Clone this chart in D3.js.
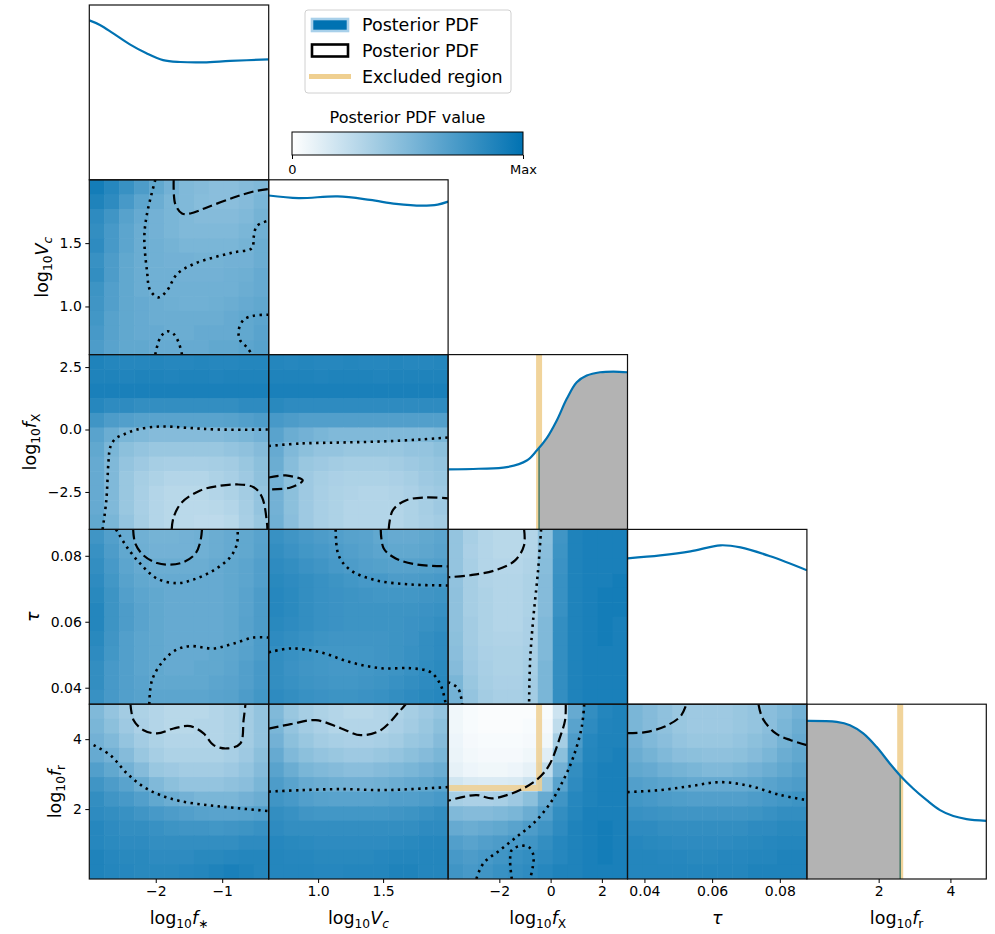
<!DOCTYPE html>
<html lang="en">
<head>
<meta charset="UTF-8">
<title>Corner plot</title>
<script src="https://d3js.org/d3.v7.min.js"></script>
<style>
  body { margin: 0; background: #fff; }
  svg text { font-family: "DejaVu Sans", sans-serif; fill: #000; }
</style>
</head>
<body>
<div id="chart"></div>
<script>
// ---- parameters / axes ----
var paramDomains = [[-3, -0.3], [0.62, 2.0], [-4, 3], [0.035, 0.088], [0, 5]];
var xTickVals = [[-2, -1], [1.0, 1.5], [-2, 0, 2], [0.04, 0.06, 0.08], [2, 4]];
var xTickText = [["−2", "−1"], ["1.0", "1.5"], ["−2", "0", "2"], ["0.04", "0.06", "0.08"], ["2", "4"]];
var yTickVals = [[], [1.0, 1.5], [-2.5, 0, 2.5], [0.04, 0.06, 0.08], [2, 4]];
var yTickText = [[], ["1.0", "1.5"], ["−2.5", "0.0", "2.5"], ["0.04", "0.06", "0.08"], ["2", "4"]];
var axisLabels = [
  [{t: "log"}, {t: "10", sub: 1}, {t: "f", it: 1}, {t: "∗", sub: 1}],
  [{t: "log"}, {t: "10", sub: 1}, {t: "V", it: 1}, {t: "c", sub: 1, it: 1}],
  [{t: "log"}, {t: "10", sub: 1}, {t: "f", it: 1}, {t: "X", sub: 1}],
  [{t: "τ", it: 1}],
  [{t: "log"}, {t: "10", sub: 1}, {t: "f", it: 1}, {t: "r", sub: 1}]
];

// excluded values
var excl_fX = -0.45;
var excl_fr = 2.6;

// ---- 1D marginals (x, relative density) ----
var marg_fstar = [[-3, 0.912], [-2.84, 0.886], [-2.64, 0.838], [-2.39, 0.775], [-2.14, 0.724], [-1.89, 0.685], [-1.63, 0.674], [-1.28, 0.672], [-0.88, 0.68], [-0.3, 0.689]];
var marg_Vc = [[0.62, 0.91], [0.85, 0.895], [1.15, 0.905], [1.4, 0.885], [1.6, 0.862], [1.8, 0.852], [1.92, 0.858], [2.0, 0.875]];
var marg_fX = [[-4, 0.343], [-2.8, 0.347], [-1.71, 0.356], [-0.93, 0.394], [-0.54, 0.451], [-0.15, 0.522], [0.24, 0.623], [0.63, 0.747], [1.02, 0.842], [1.41, 0.88], [1.93, 0.899], [2.45, 0.903], [3.0, 0.899]];
var marg_tau = [[0.035, 0.834], [0.0447, 0.851], [0.0536, 0.874], [0.0625, 0.909], [0.0684, 0.897], [0.0772, 0.846], [0.088, 0.766]];
var marg_fr = [[0, 0.905], [0.83, 0.899], [1.2, 0.88], [1.57, 0.833], [1.94, 0.756], [2.31, 0.661], [2.59, 0.594], [2.96, 0.518], [3.34, 0.451], [3.71, 0.394], [4.08, 0.36], [4.45, 0.343], [5.0, 0.333]];

// ---- 2D posterior grids (rows top->bottom, cols left->right), 0..1 ----
var heat_Vc_fstar = [
  [0.92, 0.85, 0.78, 0.70, 0.62, 0.55, 0.50, 0.48, 0.46, 0.46, 0.48, 0.50],
  [0.88, 0.82, 0.72, 0.64, 0.58, 0.52, 0.50, 0.47, 0.46, 0.46, 0.48, 0.52],
  [0.82, 0.75, 0.66, 0.60, 0.55, 0.52, 0.50, 0.48, 0.48, 0.48, 0.50, 0.54],
  [0.80, 0.72, 0.64, 0.58, 0.55, 0.52, 0.50, 0.50, 0.50, 0.50, 0.52, 0.56],
  [0.82, 0.72, 0.64, 0.58, 0.56, 0.54, 0.52, 0.52, 0.52, 0.52, 0.54, 0.58],
  [0.78, 0.70, 0.62, 0.58, 0.56, 0.55, 0.55, 0.54, 0.54, 0.55, 0.55, 0.58],
  [0.80, 0.70, 0.62, 0.58, 0.56, 0.56, 0.55, 0.55, 0.55, 0.56, 0.57, 0.60],
  [0.76, 0.68, 0.62, 0.58, 0.56, 0.56, 0.56, 0.56, 0.56, 0.56, 0.58, 0.60],
  [0.75, 0.68, 0.62, 0.60, 0.58, 0.57, 0.56, 0.56, 0.57, 0.58, 0.60, 0.62],
  [0.74, 0.66, 0.62, 0.60, 0.58, 0.58, 0.58, 0.58, 0.58, 0.60, 0.62, 0.64],
  [0.72, 0.66, 0.62, 0.60, 0.60, 0.58, 0.58, 0.60, 0.60, 0.60, 0.62, 0.65],
  [0.70, 0.65, 0.62, 0.62, 0.60, 0.60, 0.60, 0.60, 0.62, 0.62, 0.64, 0.66]
];
var heat_fX_fstar = [
  [0.88, 0.86, 0.85, 0.85, 0.86, 0.85, 0.85, 0.86, 0.85, 0.85, 0.86, 0.86],
  [0.88, 0.88, 0.87, 0.88, 0.88, 0.87, 0.88, 0.88, 0.87, 0.88, 0.88, 0.88],
  [0.90, 0.90, 0.90, 0.90, 0.90, 0.90, 0.90, 0.90, 0.90, 0.90, 0.90, 0.90],
  [0.85, 0.82, 0.82, 0.80, 0.80, 0.80, 0.80, 0.80, 0.80, 0.80, 0.82, 0.82],
  [0.75, 0.70, 0.68, 0.66, 0.65, 0.65, 0.65, 0.65, 0.65, 0.66, 0.68, 0.70],
  [0.65, 0.58, 0.52, 0.50, 0.48, 0.48, 0.48, 0.48, 0.48, 0.50, 0.52, 0.55],
  [0.62, 0.52, 0.45, 0.42, 0.40, 0.40, 0.40, 0.40, 0.40, 0.42, 0.44, 0.48],
  [0.60, 0.50, 0.42, 0.38, 0.35, 0.34, 0.34, 0.34, 0.35, 0.36, 0.40, 0.45],
  [0.60, 0.50, 0.40, 0.35, 0.32, 0.30, 0.30, 0.30, 0.32, 0.34, 0.38, 0.44],
  [0.60, 0.50, 0.40, 0.34, 0.30, 0.28, 0.28, 0.28, 0.30, 0.32, 0.36, 0.42],
  [0.60, 0.50, 0.40, 0.34, 0.30, 0.28, 0.27, 0.27, 0.28, 0.30, 0.35, 0.42],
  [0.62, 0.52, 0.42, 0.35, 0.30, 0.28, 0.27, 0.26, 0.26, 0.28, 0.34, 0.40]
];
var heat_tau_fstar = [
  [0.75, 0.68, 0.60, 0.56, 0.54, 0.54, 0.55, 0.56, 0.58, 0.60, 0.62, 0.65],
  [0.78, 0.70, 0.62, 0.57, 0.55, 0.55, 0.55, 0.56, 0.58, 0.60, 0.62, 0.66],
  [0.80, 0.72, 0.64, 0.60, 0.58, 0.58, 0.58, 0.58, 0.60, 0.62, 0.64, 0.68],
  [0.82, 0.74, 0.66, 0.62, 0.60, 0.60, 0.60, 0.60, 0.60, 0.62, 0.64, 0.68],
  [0.84, 0.76, 0.68, 0.64, 0.62, 0.60, 0.60, 0.60, 0.60, 0.62, 0.65, 0.70],
  [0.86, 0.76, 0.70, 0.65, 0.62, 0.60, 0.60, 0.60, 0.60, 0.62, 0.65, 0.70],
  [0.86, 0.76, 0.70, 0.65, 0.62, 0.60, 0.60, 0.60, 0.60, 0.62, 0.66, 0.70],
  [0.84, 0.75, 0.68, 0.64, 0.62, 0.60, 0.60, 0.60, 0.60, 0.62, 0.65, 0.70],
  [0.82, 0.74, 0.68, 0.64, 0.62, 0.60, 0.60, 0.60, 0.62, 0.63, 0.66, 0.70],
  [0.80, 0.72, 0.68, 0.64, 0.62, 0.60, 0.60, 0.62, 0.62, 0.64, 0.68, 0.72],
  [0.80, 0.72, 0.68, 0.65, 0.62, 0.62, 0.62, 0.62, 0.64, 0.65, 0.68, 0.72],
  [0.78, 0.72, 0.68, 0.66, 0.64, 0.64, 0.64, 0.64, 0.65, 0.66, 0.70, 0.74]
];
var heat_fr_fstar = [
  [0.50, 0.42, 0.36, 0.32, 0.30, 0.28, 0.28, 0.28, 0.30, 0.32, 0.36, 0.42],
  [0.52, 0.45, 0.38, 0.33, 0.30, 0.28, 0.28, 0.30, 0.30, 0.32, 0.36, 0.42],
  [0.55, 0.50, 0.42, 0.36, 0.32, 0.30, 0.30, 0.30, 0.30, 0.32, 0.36, 0.42],
  [0.60, 0.55, 0.48, 0.40, 0.35, 0.32, 0.32, 0.32, 0.32, 0.34, 0.38, 0.45],
  [0.68, 0.62, 0.55, 0.48, 0.40, 0.38, 0.36, 0.36, 0.36, 0.38, 0.42, 0.48],
  [0.75, 0.70, 0.65, 0.58, 0.50, 0.45, 0.42, 0.42, 0.42, 0.44, 0.46, 0.52],
  [0.80, 0.75, 0.72, 0.68, 0.62, 0.58, 0.55, 0.52, 0.52, 0.52, 0.55, 0.58],
  [0.82, 0.80, 0.78, 0.75, 0.72, 0.70, 0.68, 0.66, 0.65, 0.65, 0.66, 0.68],
  [0.85, 0.82, 0.80, 0.80, 0.78, 0.76, 0.75, 0.75, 0.74, 0.75, 0.76, 0.78],
  [0.85, 0.83, 0.82, 0.82, 0.80, 0.80, 0.80, 0.80, 0.80, 0.80, 0.82, 0.82],
  [0.88, 0.85, 0.84, 0.84, 0.82, 0.82, 0.82, 0.84, 0.84, 0.85, 0.86, 0.86],
  [0.88, 0.86, 0.85, 0.84, 0.84, 0.84, 0.85, 0.86, 0.88, 0.90, 0.88, 0.86]
];
var heat_fX_Vc = [
  [0.86, 0.85, 0.86, 0.85, 0.85, 0.86, 0.85, 0.85, 0.86, 0.85, 0.85, 0.86],
  [0.88, 0.88, 0.88, 0.87, 0.88, 0.88, 0.88, 0.87, 0.88, 0.88, 0.88, 0.88],
  [0.90, 0.90, 0.90, 0.90, 0.90, 0.90, 0.90, 0.90, 0.90, 0.90, 0.90, 0.90],
  [0.84, 0.82, 0.82, 0.82, 0.82, 0.82, 0.82, 0.82, 0.82, 0.82, 0.82, 0.82],
  [0.72, 0.70, 0.68, 0.68, 0.68, 0.68, 0.68, 0.68, 0.68, 0.68, 0.68, 0.68],
  [0.65, 0.58, 0.55, 0.52, 0.50, 0.50, 0.50, 0.50, 0.50, 0.50, 0.50, 0.52],
  [0.60, 0.50, 0.45, 0.42, 0.42, 0.40, 0.40, 0.40, 0.40, 0.42, 0.42, 0.45],
  [0.58, 0.47, 0.40, 0.38, 0.36, 0.35, 0.35, 0.35, 0.36, 0.38, 0.40, 0.42],
  [0.55, 0.45, 0.38, 0.35, 0.33, 0.32, 0.32, 0.32, 0.33, 0.35, 0.38, 0.40],
  [0.55, 0.45, 0.38, 0.34, 0.32, 0.31, 0.30, 0.30, 0.31, 0.33, 0.36, 0.38],
  [0.55, 0.45, 0.38, 0.34, 0.32, 0.30, 0.30, 0.30, 0.30, 0.32, 0.35, 0.38],
  [0.56, 0.46, 0.38, 0.34, 0.32, 0.30, 0.30, 0.30, 0.30, 0.32, 0.34, 0.36]
];
var heat_tau_Vc = [
  [0.78, 0.75, 0.72, 0.70, 0.68, 0.66, 0.65, 0.62, 0.60, 0.60, 0.62, 0.64],
  [0.80, 0.77, 0.74, 0.72, 0.70, 0.68, 0.66, 0.64, 0.62, 0.62, 0.63, 0.65],
  [0.82, 0.80, 0.77, 0.75, 0.72, 0.70, 0.68, 0.67, 0.66, 0.66, 0.67, 0.68],
  [0.84, 0.82, 0.80, 0.78, 0.76, 0.74, 0.72, 0.72, 0.70, 0.70, 0.71, 0.72],
  [0.85, 0.83, 0.80, 0.78, 0.77, 0.76, 0.75, 0.74, 0.74, 0.74, 0.75, 0.76],
  [0.85, 0.83, 0.80, 0.78, 0.77, 0.76, 0.76, 0.76, 0.76, 0.76, 0.77, 0.78],
  [0.84, 0.82, 0.80, 0.78, 0.77, 0.76, 0.76, 0.76, 0.76, 0.77, 0.78, 0.80],
  [0.82, 0.80, 0.78, 0.76, 0.75, 0.75, 0.75, 0.75, 0.76, 0.77, 0.80, 0.82],
  [0.80, 0.78, 0.76, 0.74, 0.74, 0.74, 0.74, 0.75, 0.76, 0.78, 0.80, 0.82],
  [0.80, 0.77, 0.75, 0.74, 0.73, 0.73, 0.74, 0.75, 0.76, 0.78, 0.81, 0.83],
  [0.80, 0.78, 0.76, 0.75, 0.74, 0.74, 0.75, 0.76, 0.78, 0.80, 0.82, 0.84],
  [0.82, 0.80, 0.78, 0.77, 0.76, 0.76, 0.77, 0.78, 0.80, 0.82, 0.84, 0.85]
];
var heat_fr_Vc = [
  [0.50, 0.40, 0.35, 0.32, 0.30, 0.28, 0.28, 0.30, 0.32, 0.35, 0.38, 0.42],
  [0.52, 0.42, 0.36, 0.33, 0.30, 0.30, 0.30, 0.30, 0.33, 0.36, 0.40, 0.45],
  [0.55, 0.45, 0.40, 0.36, 0.34, 0.33, 0.33, 0.34, 0.36, 0.40, 0.42, 0.48],
  [0.60, 0.50, 0.45, 0.42, 0.40, 0.38, 0.38, 0.40, 0.42, 0.45, 0.48, 0.52],
  [0.65, 0.58, 0.52, 0.50, 0.48, 0.46, 0.46, 0.48, 0.50, 0.52, 0.55, 0.58],
  [0.70, 0.65, 0.60, 0.58, 0.56, 0.55, 0.55, 0.56, 0.58, 0.60, 0.62, 0.65],
  [0.75, 0.72, 0.68, 0.66, 0.65, 0.65, 0.65, 0.66, 0.68, 0.68, 0.70, 0.72],
  [0.80, 0.78, 0.75, 0.74, 0.74, 0.74, 0.74, 0.74, 0.75, 0.76, 0.78, 0.80],
  [0.82, 0.80, 0.80, 0.80, 0.80, 0.80, 0.80, 0.80, 0.80, 0.80, 0.82, 0.82],
  [0.85, 0.84, 0.83, 0.82, 0.82, 0.82, 0.82, 0.82, 0.83, 0.84, 0.85, 0.85],
  [0.86, 0.85, 0.85, 0.84, 0.84, 0.84, 0.84, 0.85, 0.86, 0.86, 0.86, 0.86],
  [0.86, 0.86, 0.86, 0.85, 0.85, 0.86, 0.86, 0.86, 0.88, 0.88, 0.86, 0.86]
];
var heat_tau_fX = [
  [0.42, 0.34, 0.30, 0.28, 0.28, 0.30, 0.45, 0.75, 0.88, 0.90, 0.90, 0.90],
  [0.42, 0.33, 0.30, 0.28, 0.28, 0.30, 0.46, 0.76, 0.88, 0.90, 0.90, 0.90],
  [0.42, 0.34, 0.30, 0.29, 0.29, 0.31, 0.47, 0.77, 0.88, 0.90, 0.90, 0.90],
  [0.43, 0.35, 0.31, 0.30, 0.30, 0.32, 0.48, 0.78, 0.88, 0.90, 0.90, 0.92],
  [0.44, 0.35, 0.32, 0.30, 0.30, 0.32, 0.48, 0.78, 0.88, 0.90, 0.92, 0.92],
  [0.44, 0.35, 0.32, 0.30, 0.30, 0.32, 0.48, 0.78, 0.88, 0.90, 0.92, 0.92],
  [0.44, 0.36, 0.32, 0.30, 0.30, 0.33, 0.50, 0.80, 0.88, 0.90, 0.92, 0.90],
  [0.45, 0.36, 0.32, 0.31, 0.31, 0.33, 0.50, 0.80, 0.88, 0.90, 0.92, 0.90],
  [0.46, 0.37, 0.33, 0.32, 0.32, 0.34, 0.50, 0.80, 0.88, 0.90, 0.90, 0.90],
  [0.48, 0.38, 0.34, 0.32, 0.32, 0.35, 0.52, 0.80, 0.88, 0.90, 0.90, 0.90],
  [0.52, 0.40, 0.35, 0.33, 0.33, 0.36, 0.52, 0.80, 0.88, 0.90, 0.90, 0.90],
  [0.55, 0.42, 0.36, 0.34, 0.34, 0.36, 0.52, 0.80, 0.88, 0.90, 0.90, 0.90]
];
var heat_fr_fX = [
  [0.06, 0.03, 0.02, 0.02, 0.02, 0.02, 0.03, 0.20, 0.60, 0.80, 0.86, 0.88],
  [0.06, 0.03, 0.02, 0.02, 0.02, 0.03, 0.04, 0.25, 0.65, 0.82, 0.87, 0.88],
  [0.07, 0.04, 0.03, 0.03, 0.03, 0.04, 0.06, 0.35, 0.70, 0.85, 0.88, 0.88],
  [0.08, 0.05, 0.04, 0.04, 0.04, 0.06, 0.12, 0.45, 0.75, 0.86, 0.88, 0.90],
  [0.10, 0.07, 0.06, 0.06, 0.07, 0.10, 0.25, 0.55, 0.80, 0.87, 0.90, 0.90],
  [0.18, 0.15, 0.14, 0.14, 0.15, 0.20, 0.40, 0.65, 0.82, 0.88, 0.90, 0.90],
  [0.35, 0.33, 0.33, 0.34, 0.38, 0.45, 0.60, 0.75, 0.85, 0.88, 0.90, 0.90],
  [0.50, 0.48, 0.48, 0.50, 0.52, 0.58, 0.68, 0.80, 0.86, 0.90, 0.90, 0.90],
  [0.60, 0.58, 0.60, 0.62, 0.65, 0.70, 0.75, 0.82, 0.88, 0.90, 0.92, 0.90],
  [0.68, 0.65, 0.68, 0.70, 0.72, 0.75, 0.80, 0.85, 0.88, 0.90, 0.92, 0.90],
  [0.72, 0.70, 0.72, 0.75, 0.78, 0.80, 0.82, 0.85, 0.88, 0.90, 0.92, 0.90],
  [0.75, 0.72, 0.75, 0.78, 0.80, 0.82, 0.85, 0.88, 0.88, 0.90, 0.90, 0.90]
];
var heat_fr_tau = [
  [0.52, 0.48, 0.44, 0.40, 0.38, 0.38, 0.38, 0.40, 0.42, 0.46, 0.50, 0.55],
  [0.52, 0.48, 0.44, 0.40, 0.38, 0.38, 0.38, 0.40, 0.42, 0.46, 0.52, 0.58],
  [0.55, 0.50, 0.46, 0.42, 0.40, 0.40, 0.40, 0.42, 0.45, 0.48, 0.54, 0.60],
  [0.58, 0.54, 0.50, 0.46, 0.45, 0.44, 0.44, 0.45, 0.48, 0.52, 0.58, 0.62],
  [0.62, 0.60, 0.56, 0.54, 0.52, 0.50, 0.50, 0.52, 0.55, 0.58, 0.62, 0.66],
  [0.68, 0.66, 0.64, 0.62, 0.60, 0.60, 0.60, 0.60, 0.62, 0.65, 0.68, 0.70],
  [0.74, 0.72, 0.70, 0.69, 0.68, 0.68, 0.68, 0.68, 0.70, 0.72, 0.74, 0.76],
  [0.78, 0.77, 0.76, 0.75, 0.75, 0.75, 0.75, 0.75, 0.76, 0.78, 0.80, 0.80],
  [0.82, 0.82, 0.80, 0.80, 0.80, 0.80, 0.80, 0.80, 0.82, 0.82, 0.84, 0.84],
  [0.85, 0.84, 0.83, 0.82, 0.82, 0.82, 0.82, 0.83, 0.84, 0.85, 0.86, 0.86],
  [0.86, 0.86, 0.85, 0.85, 0.84, 0.84, 0.85, 0.85, 0.86, 0.86, 0.88, 0.88],
  [0.86, 0.86, 0.86, 0.86, 0.86, 0.86, 0.86, 0.86, 0.88, 0.88, 0.88, 0.88]
];

// ---- credible-region contours (x, y in data units) ----
var cont_Vc_fstar_dash = [[-1.73, 2.0], [-1.706, 1.808], [-1.605, 1.734], [-1.48, 1.734], [-1.23, 1.782], [-0.828, 1.86], [-0.527, 1.908], [-0.3, 1.927]];
var cont_Vc_fstar_dot1 = [[-2.007, 2.0], [-2.132, 1.73], [-2.172, 1.545], [-2.132, 1.282], [-2.082, 1.125], [-1.957, 1.072], [-1.831, 1.125], [-1.68, 1.256], [-1.43, 1.335], [-1.129, 1.387], [-0.828, 1.427], [-0.551, 1.461], [-0.527, 1.545], [-0.476, 1.637], [-0.3, 1.677]];
var cont_Vc_fstar_dot2 = [[-2.007, 0.62], [-1.931, 0.756], [-1.83, 0.804], [-1.731, 0.783], [-1.656, 0.717], [-1.605, 0.62]];
var cont_Vc_fstar_dot3 = [[-0.3, 0.935], [-0.527, 0.927], [-0.678, 0.894], [-0.753, 0.809], [-0.727, 0.73], [-0.627, 0.677], [-0.551, 0.62]];

var cont_fX_fstar_dot = [[-2.8, -4.0], [-2.744, -2.84], [-2.71, -1.24], [-2.684, -0.708], [-2.609, -0.372], [-2.484, -0.2], [-2.282, 0.0], [-1.931, 0.12], [-1.53, 0.068], [-1.078, 0.0], [-0.3, 0.0]];
var cont_fX_fstar_dash = [[-1.76, -4.0], [-1.731, -3.51], [-1.605, -2.91], [-1.33, -2.44], [-1.078, -2.27], [-0.777, -2.2], [-0.527, -2.31], [-0.4, -2.71], [-0.325, -3.77], [-0.32, -4.0]];

var cont_tau_fstar_dash = [[-2.34, 0.088], [-2.308, 0.0837], [-2.183, 0.0801], [-1.981, 0.0778], [-1.781, 0.0773], [-1.581, 0.0781], [-1.405, 0.0806], [-1.33, 0.0842], [-1.304, 0.088]];
var cont_tau_fstar_dot1 = [[-2.6, 0.088], [-2.559, 0.0867], [-2.433, 0.0826], [-2.232, 0.0776], [-1.981, 0.0731], [-1.68, 0.0717], [-1.43, 0.0728], [-1.129, 0.0756], [-0.878, 0.0796], [-0.777, 0.0837], [-0.768, 0.088]];
var cont_tau_fstar_dot2 = [[-2.097, 0.035], [-2.056, 0.0423], [-1.881, 0.0483], [-1.68, 0.0516], [-1.48, 0.0526], [-1.129, 0.0519], [-0.828, 0.0534], [-0.527, 0.0552], [-0.3, 0.0552]];

var cont_fr_fstar_dash = [[-2.38, 5.0], [-2.333, 4.543], [-2.183, 4.257], [-1.981, 4.163], [-1.731, 4.306], [-1.48, 4.371], [-1.28, 4.163], [-1.129, 3.829], [-0.928, 3.734], [-0.727, 3.877], [-0.678, 4.543], [-0.65, 5.0]];
var cont_fr_fstar_dot = [[-2.935, 3.829], [-2.684, 3.543], [-2.433, 3.02], [-2.183, 2.637], [-1.931, 2.4], [-1.63, 2.229], [-1.229, 2.114], [-0.828, 2.037], [-0.3, 1.943]];

var cont_fX_Vc_dot = [[0.62, -0.66], [0.866, -0.56], [1.174, -0.52], [1.482, -0.48], [1.789, -0.4], [2.0, -0.32]];
var cont_fX_Vc_dash1 = [[0.62, -1.92], [0.751, -1.84], [0.882, -2.04], [0.789, -2.32], [0.62, -2.4]];
var cont_fX_Vc_dash2 = [[1.543, -4.0], [1.574, -3.24], [1.674, -2.84], [1.828, -2.72], [2.0, -2.76]];

var cont_tau_Vc_dash = [[1.482, 0.088], [1.505, 0.0822], [1.597, 0.0792], [1.751, 0.0774], [2.0, 0.0768]];
var cont_tau_Vc_dot1 = [[1.135, 0.088], [1.158, 0.0801], [1.251, 0.0756], [1.443, 0.0726], [1.712, 0.0713], [2.0, 0.071]];
var cont_tau_Vc_dot2 = [[0.62, 0.0507], [0.789, 0.0519], [1.02, 0.0507], [1.251, 0.0477], [1.482, 0.0459], [1.712, 0.0459], [1.866, 0.0447], [1.943, 0.0408], [1.982, 0.035]];

var cont_fr_Vc_dash = [[0.62, 4.3], [0.789, 4.429], [0.982, 4.543], [1.174, 4.314], [1.328, 4.114], [1.482, 4.257], [1.62, 4.771], [1.674, 5.0]];
var cont_fr_Vc_dot = [[0.62, 2.5], [0.866, 2.54], [1.174, 2.571], [1.482, 2.543], [1.712, 2.57], [2.0, 2.629]];

var cont_tau_fX_dash = [[-1.035, 0.088], [-1.035, 0.0832], [-1.386, 0.0786], [-2.166, 0.0756], [-3.142, 0.0741], [-4.0, 0.0735]];
var cont_tau_fX_dot1 = [[-0.372, 0.088], [-0.489, 0.0756], [-0.684, 0.0604], [-0.8, 0.0483], [-0.84, 0.035]];
var cont_tau_fX_dot2 = [[-4.0, 0.0417], [-3.61, 0.0398], [-3.45, 0.035]];

var cont_fr_fX_dash = [[0.59, 5.0], [0.565, 4.543], [0.37, 4.066], [-0.02, 3.306], [-0.41, 2.923], [-1.062, 2.591], [-1.71, 2.4], [-2.295, 2.306], [-2.88, 2.4], [-3.403, 2.351], [-4.0, 2.237]];
var cont_fr_fX_dot1 = [[1.31, 5.0], [1.216, 4.351], [0.889, 3.494], [0.499, 2.829], [-0.02, 2.163], [-0.672, 1.591], [-1.32, 1.209], [-1.971, 0.829], [-2.623, 0.449], [-2.9, 0.0]];
var cont_fr_fX_dot2 = [[-1.515, 0.0], [-1.581, 0.543], [-1.515, 0.829], [-1.191, 0.943], [-0.867, 0.923], [-0.672, 0.686], [-0.696, 0.351], [-0.8, 0.0]];

var cont_fr_tau_dash1 = [[0.035, 4.171], [0.0403, 4.2], [0.0462, 4.371], [0.0507, 4.657], [0.0524, 5.0]];
var cont_fr_tau_dash2 = [[0.0737, 5.0], [0.0749, 4.6], [0.0787, 4.171], [0.0832, 3.971], [0.088, 3.829]];
var cont_fr_tau_dot = [[0.035, 2.486], [0.0447, 2.543], [0.0536, 2.657], [0.0625, 2.771], [0.0713, 2.657], [0.0802, 2.4], [0.088, 2.257]];

// ---- layout ----
var W = 995, H = 934;
var gridLeft = 89.3, gridTop = 5, cellW = 179.4, cellH = 174.8;
var blue = "#0072b2", exclColor = "#efcf90", grayFill = "#b3b3b3";

var color = d3.scaleSequential(d3.interpolateRgb("#ffffff", blue)).domain([0, 1]);

var svg = d3.select("#chart").append("svg").attr("width", W).attr("height", H);
var defs = svg.append("defs");

function mathText(parent, parts, size) {
  var t = parent.append("text").style("font-size", size + "px");
  var shift = 0;
  parts.forEach(function(p) {
    var want = p.sub ? size * 0.24 : 0;
    t.append("tspan")
      .attr("dy", want - shift)
      .style("font-size", p.sub ? (size * 0.7) + "px" : null)
      .style("font-style", p.it ? "italic" : null)
      .text(p.t);
    shift = want;
  });
  return t;
}

function scalesFor(row, col) {
  var x0 = gridLeft + col * cellW, y0 = gridTop + row * cellH;
  var xs = d3.scaleLinear().domain(paramDomains[col]).range([x0, x0 + cellW]);
  var ys = row === col
    ? d3.scaleLinear().domain([0, 1]).range([y0 + cellH, y0])
    : d3.scaleLinear().domain(paramDomains[row]).range([y0 + cellH, y0]);
  return {xs: xs, ys: ys, x0: x0, y0: y0};
}

function makeClip(id, s) {
  defs.append("clipPath").attr("id", id).append("rect")
    .attr("x", s.x0).attr("y", s.y0).attr("width", cellW).attr("height", cellH);
}

// 2D panels
var panels2d = [
  {row: 1, col: 0, heat: heat_Vc_fstar, dash: [cont_Vc_fstar_dash], dot: [cont_Vc_fstar_dot1, cont_Vc_fstar_dot2, cont_Vc_fstar_dot3]},
  {row: 2, col: 0, heat: heat_fX_fstar, dash: [cont_fX_fstar_dash], dot: [cont_fX_fstar_dot]},
  {row: 3, col: 0, heat: heat_tau_fstar, dash: [cont_tau_fstar_dash], dot: [cont_tau_fstar_dot1, cont_tau_fstar_dot2]},
  {row: 4, col: 0, heat: heat_fr_fstar, dash: [cont_fr_fstar_dash], dot: [cont_fr_fstar_dot]},
  {row: 2, col: 1, heat: heat_fX_Vc, dash: [cont_fX_Vc_dash1, cont_fX_Vc_dash2], dot: [cont_fX_Vc_dot]},
  {row: 3, col: 1, heat: heat_tau_Vc, dash: [cont_tau_Vc_dash], dot: [cont_tau_Vc_dot1, cont_tau_Vc_dot2]},
  {row: 4, col: 1, heat: heat_fr_Vc, dash: [cont_fr_Vc_dash], dot: [cont_fr_Vc_dot]},
  {row: 3, col: 2, heat: heat_tau_fX, dash: [cont_tau_fX_dash], dot: [cont_tau_fX_dot1, cont_tau_fX_dot2]},
  {row: 4, col: 2, heat: heat_fr_fX, dash: [cont_fr_fX_dash], dot: [cont_fr_fX_dot1, cont_fr_fX_dot2], excl: true},
  {row: 4, col: 3, heat: heat_fr_tau, dash: [cont_fr_tau_dash1, cont_fr_tau_dash2], dot: [cont_fr_tau_dot]}
];

panels2d.forEach(function(p) {
  var s = scalesFor(p.row, p.col);
  var id = "clip" + p.row + p.col;
  makeClip(id, s);
  var g = svg.append("g").attr("clip-path", "url(#" + id + ")");
  var nr = p.heat.length, nc = p.heat[0].length;
  var cx = d3.scaleLinear().domain([0, nc]).range(paramDomains[p.col]);
  var cy = d3.scaleLinear().domain([0, nr]).range([paramDomains[p.row][1], paramDomains[p.row][0]]);
  var cells = [];
  p.heat.forEach(function(r, i) { r.forEach(function(v, j) { cells.push({i: i, j: j, v: v}); }); });
  g.selectAll("rect.cell").data(cells).enter().append("rect")
    .attr("class", "cell")
    .attr("x", function(d) { return s.xs(cx(d.j)); })
    .attr("y", function(d) { return s.ys(cy(d.i)); })
    .attr("width", function(d) { return s.xs(cx(d.j + 1)) - s.xs(cx(d.j)) + 0.6; })
    .attr("height", function(d) { return s.ys(cy(d.i + 1)) - s.ys(cy(d.i)) + 0.6; })
    .attr("fill", function(d) { return color(d.v); });

  if (p.excl) {
    var xr = paramDomains[p.col], yr = paramDomains[p.row];
    g.append("path")
      .attr("d", d3.line()([[s.xs(xr[0]), s.ys(excl_fr)], [s.xs(excl_fX), s.ys(excl_fr)], [s.xs(excl_fX), s.ys(yr[1])]]))
      .attr("fill", "none").attr("stroke", exclColor).attr("stroke-width", 6).attr("opacity", 0.85);
  }

  var line = d3.line().x(function(d) { return s.xs(d[0]); }).y(function(d) { return s.ys(d[1]); })
    .curve(d3.curveCatmullRom.alpha(0.5));
  p.dash.forEach(function(c) {
    g.append("path").attr("d", line(c)).attr("fill", "none")
      .attr("stroke", "#000").attr("stroke-width", 2.2).attr("stroke-dasharray", "10,4.5");
  });
  p.dot.forEach(function(c) {
    g.append("path").attr("d", line(c)).attr("fill", "none")
      .attr("stroke", "#000").attr("stroke-width", 2.6).attr("stroke-dasharray", "2.4,4.4");
  });
});

// diagonal marginals
var margData = [marg_fstar, marg_Vc, marg_fX, marg_tau, marg_fr];
margData.forEach(function(m, k) {
  var s = scalesFor(k, k);
  var id = "clipd" + k;
  makeClip(id, s);
  var g = svg.append("g").attr("clip-path", "url(#" + id + ")");
  g.append("rect").attr("x", s.x0).attr("y", s.y0).attr("width", cellW).attr("height", cellH).attr("fill", "#fff");
  var curve = d3.curveCatmullRom.alpha(0.5);
  var line = d3.line().x(function(d) { return s.xs(d[0]); }).y(function(d) { return s.ys(d[1]); }).curve(curve);
  var area = d3.area().x(function(d) { return s.xs(d[0]); }).y0(s.ys(0)).y1(function(d) { return s.ys(d[1]); }).curve(curve);

  var cut = null, keepRight = true;
  if (k === 2) { cut = excl_fX; keepRight = true; }
  if (k === 4) { cut = excl_fr; keepRight = false; }
  if (cut !== null) {
    var xc = s.xs(cut);
    g.append("rect").attr("x", xc - 3).attr("y", s.y0).attr("width", 6).attr("height", cellH)
      .attr("fill", exclColor).attr("opacity", 0.9);
    var fid = "fill" + k;
    defs.append("clipPath").attr("id", fid).append("rect")
      .attr("x", keepRight ? xc : s.x0).attr("y", s.y0)
      .attr("width", keepRight ? s.x0 + cellW - xc : xc - s.x0).attr("height", cellH);
    g.append("path").attr("d", area(m)).attr("fill", grayFill).attr("clip-path", "url(#" + fid + ")");
    defs.append("clipPath").attr("id", fid + "b").append("path").attr("d", area(m));
    g.append("line").attr("x1", xc).attr("x2", xc).attr("y1", s.y0 + cellH).attr("y2", s.y0)
      .attr("stroke", "#4f7d6a").attr("stroke-width", 1.6).attr("clip-path", "url(#" + fid + "b)");
  }
  g.append("path").attr("d", line(m)).attr("fill", "none").attr("stroke", blue).attr("stroke-width", 2.2);
});

// panel frames
for (var r = 0; r < 5; r++) {
  for (var c = 0; c <= r; c++) {
    var s = scalesFor(r, c);
    svg.append("rect").attr("x", s.x0).attr("y", s.y0).attr("width", cellW).attr("height", cellH)
      .attr("fill", "none").attr("stroke", "#111").attr("stroke-width", 1.2);
  }
}

// bottom axes
for (var c2 = 0; c2 < 5; c2++) {
  var sb = scalesFor(4, c2);
  var xs = d3.scaleLinear().domain(paramDomains[c2]).range([sb.x0, sb.x0 + cellW]);
  var ax = svg.append("g").attr("transform", "translate(0," + (sb.y0 + cellH) + ")")
    .call(d3.axisBottom(xs).tickValues(xTickVals[c2])
      .tickFormat(function(d, i) { return xTickText[this.c][i]; }.bind({c: c2}))
      .tickSize(4).tickPadding(3.5));
  ax.select(".domain").remove();
  ax.selectAll("text").style("font-size", "14px").style("font-family", "DejaVu Sans");
  ax.selectAll("line").attr("stroke", "#000").attr("stroke-width", 1);
  mathText(svg, axisLabels[c2], 17.5)
    .attr("x", sb.x0 + cellW / 2).attr("y", 924).attr("text-anchor", "middle");
}

// left axes
for (var r2 = 1; r2 < 5; r2++) {
  var sl = scalesFor(r2, 0);
  var ay = svg.append("g").attr("transform", "translate(" + sl.x0 + ",0)")
    .call(d3.axisLeft(sl.ys).tickValues(yTickVals[r2])
      .tickFormat(function(d, i) { return yTickText[this.r][i]; }.bind({r: r2}))
      .tickSize(4).tickPadding(3.5));
  ay.select(".domain").remove();
  ay.selectAll("text").style("font-size", "14px").style("font-family", "DejaVu Sans");
  ay.selectAll("line").attr("stroke", "#000").attr("stroke-width", 1);
  var bb = ay.node().getBBox();
  var lx = sl.x0 + bb.x - 12;
  var ly = sl.y0 + cellH / 2;
  mathText(svg, axisLabels[r2], 17.5)
    .attr("text-anchor", "middle")
    .attr("transform", "translate(" + lx + "," + ly + ") rotate(-90)");
}

// legend
var leg = svg.append("g");
leg.append("rect").attr("x", 305).attr("y", 10).attr("width", 206).attr("height", 83).attr("rx", 3)
  .attr("fill", "#fff").attr("stroke", "#d0d0d0").attr("stroke-width", 1);
leg.append("rect").attr("x", 312).attr("y", 19).attr("width", 36).attr("height", 12)
  .attr("fill", blue).attr("stroke", "#a8d0ea").attr("stroke-width", 2.6);
leg.append("rect").attr("x", 312).attr("y", 44.5).attr("width", 36).attr("height", 12)
  .attr("fill", "#fff").attr("stroke", "#000").attr("stroke-width", 2.6);
leg.append("line").attr("x1", 309).attr("x2", 351).attr("y1", 76.5).attr("y2", 76.5)
  .attr("stroke", exclColor).attr("stroke-width", 5);
var legText = ["Posterior PDF", "Posterior PDF", "Excluded region"];
leg.selectAll("text.lt").data(legText).enter().append("text").attr("class", "lt")
  .attr("x", 362).attr("y", function(d, i) { return 31 + i * 25.8; })
  .style("font-size", "17.5px").text(function(d) { return d; });

// colorbar
var cbX0 = 292, cbX1 = 523, cbY = 132, cbH = 23;
var grad = defs.append("linearGradient").attr("id", "cbgrad");
d3.range(0, 1.0001, 0.1).forEach(function(t) {
  grad.append("stop").attr("offset", t).attr("stop-color", color(t));
});
svg.append("rect").attr("x", cbX0).attr("y", cbY).attr("width", cbX1 - cbX0).attr("height", cbH)
  .attr("fill", "url(#cbgrad)").attr("stroke", "#000").attr("stroke-width", 1);
svg.append("text").attr("x", (cbX0 + cbX1) / 2).attr("y", 123).attr("text-anchor", "middle")
  .style("font-size", "16px").text("Posterior PDF value");
var cbScale = d3.scaleLinear().domain([0, 1]).range([cbX0, cbX1]);
var cbAx = svg.append("g").attr("transform", "translate(0," + (cbY + cbH) + ")")
  .call(d3.axisBottom(cbScale).tickValues([0, 1]).tickFormat(function(d) { return d === 0 ? "0" : "Max"; })
    .tickSize(4).tickPadding(6));
cbAx.select(".domain").remove();
cbAx.selectAll("text").style("font-size", "13px").style("font-family", "DejaVu Sans");
</script>
</body>
</html>
